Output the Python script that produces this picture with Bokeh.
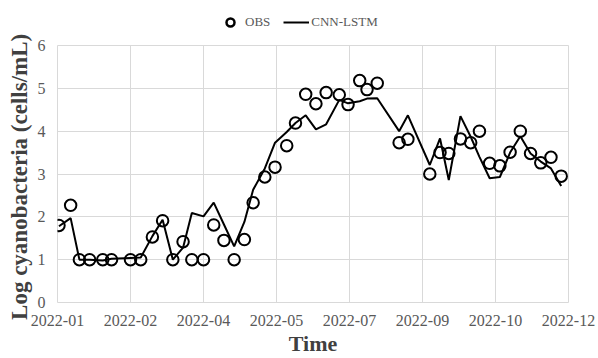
import pandas as pd
from bokeh.plotting import figure
from bokeh.layouts import column
from bokeh.models import (FixedTicker, DatetimeTickFormatter, Legend, LegendItem,
                          Range1d, ColumnDataSource)
from bokeh.embed import file_html
from bokeh.resources import INLINE

dates = ["2022-01-02", "2022-01-10", "2022-01-16", "2022-01-23", "2022-02-01",
         "2022-02-07", "2022-02-20", "2022-02-27", "2022-03-07", "2022-03-14",
         "2022-03-21", "2022-03-28", "2022-04-03", "2022-04-11", "2022-04-18",
         "2022-04-25", "2022-05-02", "2022-05-09", "2022-05-15", "2022-05-23",
         "2022-05-30", "2022-06-07", "2022-06-13", "2022-06-20", "2022-06-27",
         "2022-07-04", "2022-07-13", "2022-07-19", "2022-07-27", "2022-08-01",
         "2022-08-08", "2022-08-23", "2022-08-29", "2022-09-13", "2022-09-20",
         "2022-09-26", "2022-10-04", "2022-10-11", "2022-10-17", "2022-10-24",
         "2022-10-31", "2022-11-07", "2022-11-14", "2022-11-21", "2022-11-28",
         "2022-12-05", "2022-12-12"]

obs = [1.80, 2.27, 1.00, 1.00, 1.00, 1.00, 1.00, 1.00, 1.53, 1.91,
       1.00, 1.42, 1.00, 1.00, 1.81, 1.45, 1.00, 1.47, 2.33, 2.93,
       3.16, 3.66, 4.19, 4.86, 4.64, 4.90, 4.85, 4.62, 5.18, 4.97,
       5.12, 3.73, 3.81, 3.00, 3.50, 3.48, 3.82, 3.73, 4.00, 3.25,
       3.19, 3.51, 4.00, 3.48, 3.26, 3.39, 2.95]

cnn_lstm = [1.78, 1.97, 1.00, 1.00, 0.98, 1.02, 1.04, 1.05, 1.55, 1.93,
            1.00, 1.28, 2.09, 2.01, 2.33, 1.82, 1.31, 1.88, 2.63, 3.13,
            3.73, 3.98, 4.19, 4.37, 4.04, 4.16, 4.73, 4.65, 4.70, 4.76,
            4.77, 4.00, 4.37, 3.21, 3.83, 2.86, 4.35, 3.87, 3.40, 2.90,
            2.93, 3.50, 3.88, 3.48, 3.29, 3.13, 2.72]

series_labels = ["OBS", "CNN-LSTM"]

axis_start = "2022-01-01"
tick_step_days = 50
n_ticks = 8

def ms(ts):
    return ts.value // 10**6

t0 = pd.Timestamp(axis_start)
tick_ms = [ms(t0 + pd.Timedelta(days=tick_step_days * i)) for i in range(n_ticks)]

src = ColumnDataSource(dict(x=pd.to_datetime(dates), obs=obs, pred=cnn_lstm))

gray = "#d9d9d9"
serif = "Liberation Serif"
LEG_H = 34

# ---- legend strip (its renderers share the data but lie outside its view) ----
lf = figure(width=598, height=LEG_H, output_backend="svg", toolbar_location=None,
            x_range=Range1d(0, 1), y_range=Range1d(0, 1),
            x_axis_location=None, y_axis_location=None,
            min_border_left=0, min_border_right=0, min_border_top=0,
            min_border_bottom=0)
lf.grid.visible = False
lf.outline_line_color = None
lf.background_fill_color = "white"
lf.border_fill_color = "white"
r_obs = lf.scatter("x", "obs", source=src, marker="circle", size=8,
                   fill_color=None, line_color="black", line_width=2.5)
r_line = lf.line("x", "pred", source=src, line_color="black", line_width=2)
legend = Legend(items=[LegendItem(label=series_labels[0], renderers=[r_obs]),
                       LegendItem(label=series_labels[1], renderers=[r_line])],
                orientation="horizontal", location=(160, 2))
legend.label_text_font = serif
legend.label_text_font_size = "13px"
legend.label_text_color = "#595959"
legend.border_line_color = None
legend.background_fill_alpha = 0
legend.glyph_width = 26
legend.spacing = 13
legend.padding = 2
legend.margin = 0
legend.label_standoff = 2
lf.add_layout(legend)

# ---- main chart ---------------------------------------------------------
p = figure(width=598, height=358 - LEG_H, output_backend="svg", toolbar_location=None,
           x_axis_type="datetime",
           x_range=Range1d(tick_ms[0], tick_ms[-1]), y_range=Range1d(0, 6),
           min_border_left=57, min_border_right=30, min_border_top=45 - LEG_H,
           min_border_bottom=53)

line = p.line("x", "pred", source=src, line_color="black", line_width=2)
circ = p.scatter("x", "obs", source=src, marker="circle", size=11.5,
                 fill_color=None, line_color="black", line_width=2)

p.xaxis.ticker = FixedTicker(ticks=tick_ms)
p.xaxis.formatter = DatetimeTickFormatter(days="%Y-%m", months="%Y-%m",
                                          years="%Y-%m", hours="%Y-%m")
p.yaxis.ticker = FixedTicker(ticks=[0, 1, 2, 3, 4, 5, 6])

for ax in (p.xaxis[0], p.yaxis[0]):
    ax.axis_line_color = None
    ax.major_tick_line_color = None
    ax.minor_tick_line_color = None
    ax.major_label_text_font = serif
    ax.major_label_text_font_size = "16px"
    ax.major_label_text_color = "#595959"
    ax.axis_label_text_font = serif
    ax.axis_label_text_font_style = "bold"
    ax.axis_label_text_color = "#404040"

p.xaxis.axis_label = "Time"
p.xaxis.axis_label_text_font_size = "22px"
p.xaxis.major_label_standoff = 6
p.xaxis.axis_label_standoff = 2
p.yaxis.axis_label = "Log cyanobacteria  (cells/mL)"
p.yaxis.axis_label_text_font_size = "23px"
p.yaxis.major_label_standoff = 6
p.yaxis.axis_label_standoff = 3

p.xgrid.ticker = FixedTicker(ticks=tick_ms)
p.xgrid.grid_line_color = gray
p.ygrid.grid_line_color = gray
p.outline_line_color = gray
p.background_fill_color = "white"
p.border_fill_color = "white"

layout = column(lf, p, spacing=0)
open("out.html", "w").write(file_html(layout, INLINE))
